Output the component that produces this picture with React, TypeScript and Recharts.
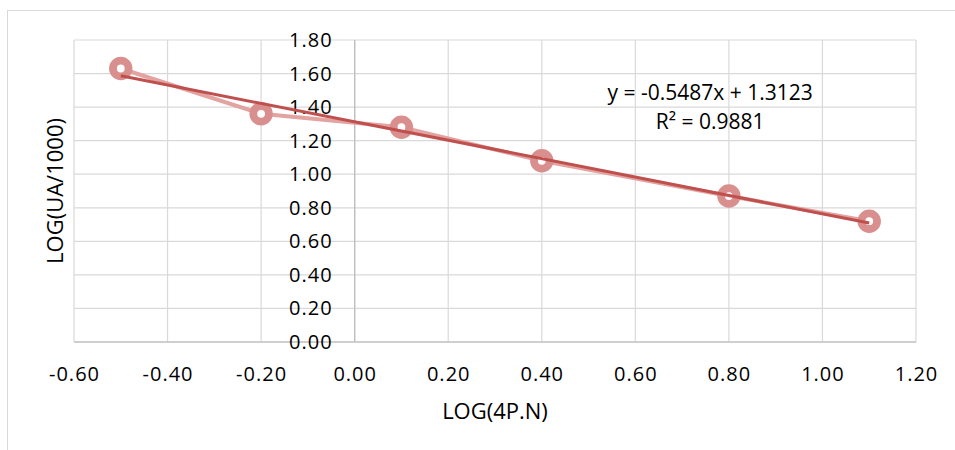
import { ScatterChart, Scatter, XAxis, YAxis, CartesianGrid, ReferenceLine, ReferenceDot, Label } from 'recharts';

const X_VALUES = [-0.5, -0.2, 0.1, 0.4, 0.8, 1.1];
const Y_VALUES = [1.63, 1.36, 1.28, 1.08, 0.87, 0.72];
const X_TICKS = [-0.6, -0.4, -0.2, 0, 0.2, 0.4, 0.6, 0.8, 1.0, 1.2];
const Y_TICKS = [0, 0.2, 0.4, 0.6, 0.8, 1.0, 1.2, 1.4, 1.6, 1.8];
const SLOPE = -0.5487;
const INTERCEPT = 1.3123;
const R2 = 0.9881;
const X_TITLE = 'LOG(4P.N)';
const Y_TITLE = 'LOG(UA/1000)';

const FONT = '"Open Sans", sans-serif';
const TEXT = '#000';

const points = X_VALUES.map((x, i) => ({ x, y: Y_VALUES[i] }));
// trendline across the data range, from the fitted equation
const trendX = [Math.min(...X_VALUES), Math.max(...X_VALUES)];
const trend = trendX.map(x => ({ x, y: SLOPE * x + INTERCEPT }));

const Marker = (p: any) => (
    <circle cx={p.cx} cy={p.cy} r={7.8} fill="#fff" stroke="#D98F8D" strokeWidth={7.8} />
);

const XTick = (p: any) => (
    <text x={p.x + 0.5} y={p.y + 39} textAnchor="middle" fontFamily={FONT} fontSize={20} letterSpacing={1} fill={TEXT}>
        {Number(p.payload.value).toFixed(2)}
    </text>
);

export default function App() {
    return (
        <div style={{ position: 'absolute', left: 0, top: 0, width: 955, height: 450, overflow: 'hidden', background: '#fff' }}>
            <div style={{ position: 'absolute', left: 7, top: 10, width: 1000, height: 500, borderTop: '1px solid #d9d9d9', borderLeft: '1px solid #d9d9d9' }} />
            <div style={{ position: 'absolute', left: 0, top: 0 }}>
                <ScatterChart width={955} height={450} margin={{ top: 40, right: 39, bottom: 18, left: 0 }}>
                    <CartesianGrid stroke="#d9d9d9" strokeWidth={1.2} />
                    <XAxis
                        type="number"
                        dataKey="x"
                        domain={[-0.6, 1.2]}
                        ticks={X_TICKS}
                        interval={0}
                        height={90}
                        tickSize={0}
                        tickMargin={0}
                        tickLine={false}
                        axisLine={{ stroke: '#c6c6c6', strokeWidth: 1.3 }}
                        tick={XTick}
                        allowDataOverflow
                    >
                        <Label
                            content={(props: any) => {
                                const vb = props.viewBox;
                                return (
                                    <text x={vb.x + vb.width / 2} y={vb.y + 77} textAnchor="middle" fontFamily={FONT} fontSize={22} fill={TEXT}>
                                        {X_TITLE}
                                    </text>
                                );
                            }}
                        />
                    </XAxis>
                    <YAxis
                        type="number"
                        dataKey="y"
                        domain={[0, 1.8]}
                        ticks={Y_TICKS}
                        interval={0}
                        width={74}
                        tick={() => <g />}
                        tickLine={false}
                        axisLine={false}
                        allowDataOverflow
                    >
                        <Label
                            content={(props: any) => {
                                const vb = props.viewBox;
                                const cx = 63;
                                const cy = vb.y + vb.height / 2;
                                return (
                                    <text x={cx} y={cy} transform={`rotate(-90 ${cx} ${cy})`} textAnchor="middle" fontFamily={FONT} fontSize={22} fill={TEXT}>
                                        {Y_TITLE}
                                    </text>
                                );
                            }}
                        />
                    </YAxis>
                    <ReferenceLine x={0} stroke="#bdbdbd" strokeWidth={1.3} />
                    {Y_TICKS.map(t => (
                        <ReferenceDot
                            key={t}
                            x={0}
                            y={t}
                            r={0}
                            shape={(p: any) => (
                                <text x={p.cx - 22} y={p.cy} dy={7} textAnchor="end" fontFamily={FONT} fontSize={20} letterSpacing={1} fill={TEXT}>
                                    {t.toFixed(2)}
                                </text>
                            )}
                        />
                    ))}
                    <Scatter
                        data={points}
                        line={{ stroke: '#E2A3A1', strokeWidth: 4 }}
                        shape={Marker}
                        isAnimationActive={false}
                    />
                    <Scatter
                        data={trend}
                        line={{ stroke: '#C0504D', strokeWidth: 3 }}
                        shape={() => <g />}
                        isAnimationActive={false}
                    />
                    <ReferenceDot
                        x={0.76}
                        y={1.442}
                        r={0}
                        shape={(p: any) => (
                            <g fontFamily={FONT} fontSize={21} fill={TEXT} textAnchor="middle">
                                <text x={p.cx} y={p.cy}>{`y = ${SLOPE}x + ${INTERCEPT}`}</text>
                                <text x={p.cx} y={p.cy + 29}>{`R² = ${R2}`}</text>
                            </g>
                        )}
                    />
                </ScatterChart>
            </div>
        </div>
    );
}
